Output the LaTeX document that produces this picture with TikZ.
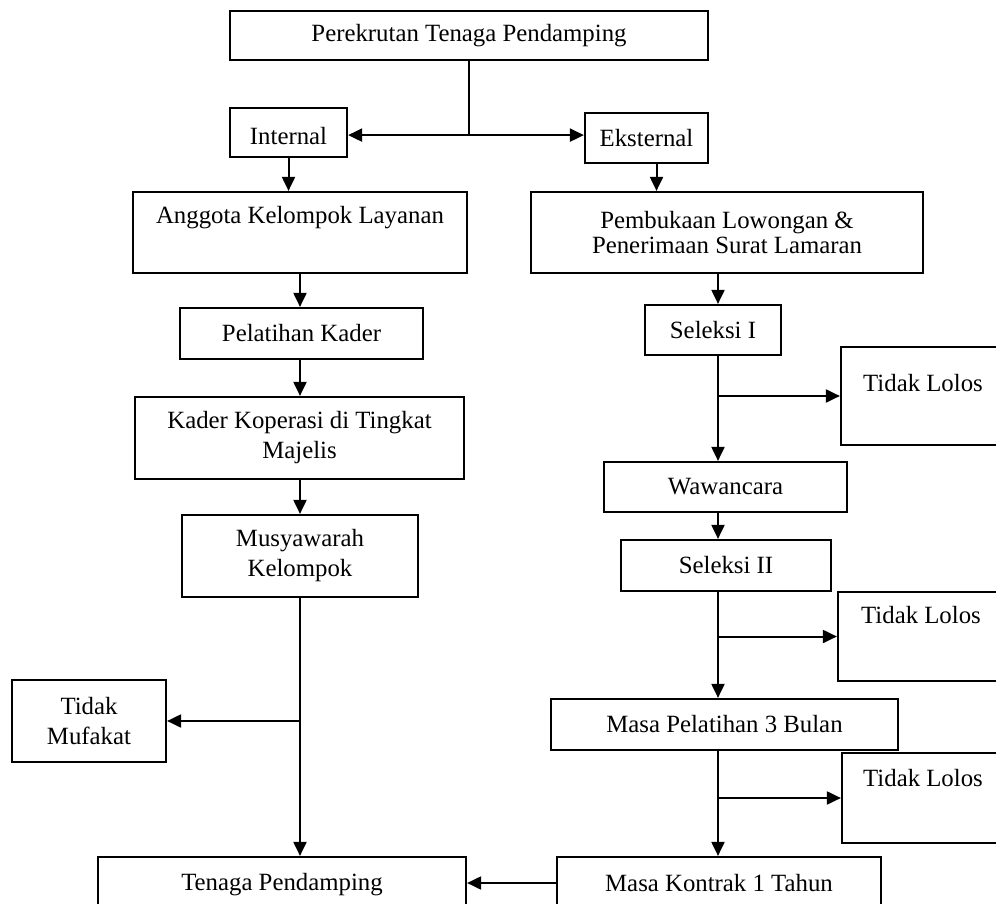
\documentclass[tikz,border=0pt]{standalone}
\usepackage{fontspec}
\setmainfont{Liberation Serif}
\usetikzlibrary{positioning,arrows.meta,fit,calc}

\begin{document}
\begin{tikzpicture}[x=0.5pt,y=-0.5pt,
    kotak/.style={draw,line width=1.1pt,inner sep=0pt},
    teks/.style={inner sep=0pt,align=center,font=\fontsize{12.4}{15}\selectfont},
    panah/.style={-{Triangle[length=7pt,width=6.5pt]},line width=1pt},
    garis/.style={line width=1pt}]
        \useasboundingbox (0,0) rectangle (996,904);
        \clip (0,0) rectangle (996,904);
        % atas
        \node[kotak,fit={(230,11) (708,60)},label={[teks]center:Perekrutan Tenaga Pendamping}] (rekrut) {};
        \node[kotak,fit={(230,108) (347,157)},label={[teks,yshift=-2pt]center:Internal}] (intern) {};
        \node[kotak,fit={(585,113) (708,163)},label={[teks]center:Eksternal}] (ekstern) {};
        % jalur internal
        \node[kotak,fit={(133,192) (467,273)}] (anggota) {};
        \node[teks] (anggotaT) at (300,218) {Anggota Kelompok Layanan};
        \node[kotak,fit={(180,308) (423,359)},label={[teks]center:Pelatihan Kader}] (kaderlatih) {};
        \node[kotak,fit={(135,397) (464,479)},label={[teks]center:Kader Koperasi di Tingkat\\Majelis}] (kader) {};
        \node[kotak,fit={(182,515) (418,597)},label={[teks]center:Musyawarah\\Kelompok}] (musyawarah) {};
        \node[kotak,fit={(12,680) (166,762)},label={[teks]center:Tidak\\Mufakat}] (mufakat) {};
        \node[kotak,fit={(98,857) (466,909)},label={[teks,yshift=-1pt]center:Tenaga Pendamping}] (tenaga) {};
        % jalur eksternal
        \node[kotak,fit={(531,192) (923,273)},label={[teks,font=\fontsize{12.4}{12.5}\selectfont]center:Pembukaan Lowongan \&\\Penerimaan Surat Lamaran}] (buka) {};
        \node[kotak,fit={(645,305) (781,355)},label={[teks]center:Seleksi I}] (seleksiA) {};
        \node[kotak,fit={(841,347) (1005,445)}] (lolosA) {};
        \node[teks] (lolosAT) at (923,383) {Tidak Lolos};
        \node[kotak,fit={(604,462) (847,512)},label={[teks]center:Wawancara}] (wawancara) {};
        \node[kotak,fit={(621,540) (831,591)},label={[teks]center:Seleksi II}] (seleksiB) {};
        \node[kotak,fit={(838,592) (1004,681)}] (lolosB) {};
        \node[teks] (lolosBT) at (921,615) {Tidak Lolos};
        \node[kotak,fit={(551,699) (898,750)},label={[teks]center:Masa Pelatihan 3 Bulan}] (latihan) {};
        \node[kotak,fit={(842,753) (1004,843)}] (lolosC) {};
        \node[teks] (lolosCT) at (923,778) {Tidak Lolos};
        \node[kotak,fit={(557,857) (881,909)},label={[teks]center:Masa Kontrak 1 Tahun}] (kontrak) {};
        % panah
        \coordinate (bagi) at ($(rekrut.south)+(0,74)$);
        \draw[garis] (rekrut.south) -- (bagi);
        \draw[panah] (bagi) -- (bagi -| intern.east);
        \draw[panah] (bagi) -- (bagi -| ekstern.west);
        \draw[panah] (intern.south) -- (intern.south |- anggota.north);
        \draw[panah] ([xshift=5pt]ekstern.south) -- ([xshift=5pt]ekstern.south |- buka.north);
        \draw[panah] (anggota.south) -- (anggota.south |- kaderlatih.north);
        \draw[panah] (kaderlatih.south -| anggota.south) -- (kader.north -| anggota.south);
        \draw[panah] (kader.south -| anggota.south) -- (musyawarah.north -| anggota.south);
        \draw[panah] (musyawarah.south -| anggota.south) -- (tenaga.north -| anggota.south);
        \draw[panah] (anggota.south |- mufakat.east) -- (mufakat.east);
        \coordinate (jalur) at (718,0);
        \draw[panah] (buka.south -| jalur) -- (seleksiA.north -| jalur);
        \draw[panah] (seleksiA.south -| jalur) -- (wawancara.north -| jalur);
        \draw[panah] (jalur |- lolosA.west) -- (lolosA.west);
        \draw[panah] (wawancara.south -| jalur) -- (seleksiB.north -| jalur);
        \draw[panah] (seleksiB.south -| jalur) -- (latihan.north -| jalur);
        \draw[panah] (jalur |- lolosB.west) -- (lolosB.west);
        \draw[panah] (latihan.south -| jalur) -- (kontrak.north -| jalur);
        \draw[panah] (jalur |- lolosC.west) -- (lolosC.west);
        \draw[panah] (kontrak.west) -- (tenaga.east);
\end{tikzpicture}
\end{document}
